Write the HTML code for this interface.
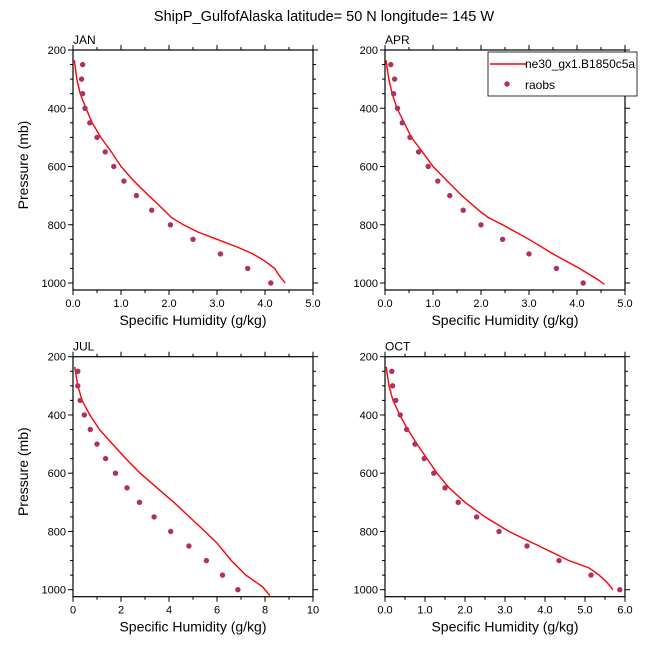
<!DOCTYPE html>
<html><head><meta charset="utf-8"><style>
html,body{margin:0;padding:0;background:#fff;}
svg{display:block;font-family:"Liberation Sans",sans-serif;}
</style></head><body>
<svg id="s" width="648" height="649" xmlns="http://www.w3.org/2000/svg">
<text x="324" y="21" font-size="14.5" text-anchor="middle">ShipP_GulfofAlaska  latitude= 50 N longitude= 145 W</text>
</svg>
<script>
const S=document.getElementById('s');let h='';
const panels=[
 {name:'JAN',x0:73,y0:50,xmax:5,lab:['0.0','1.0','2.0','3.0','4.0','5.0'],ylab:true,
  obs:[[250,.2],[300,.18],[350,.2],[400,.25],[450,.35],[500,.5],[550,.67],[600,.85],[650,1.06],[700,1.32],[750,1.64],[800,2.03],[850,2.5],[900,3.07],[950,3.64],[1000,4.12]],
  line:[[235,.03],[300,.08],[350,.15],[400,.27],[450,.4],[500,.58],[550,.8],[600,1.0],[650,1.27],[700,1.58],[750,1.9],[775,2.05],[800,2.3],[825,2.6],[850,3.0],[875,3.4],[900,3.75],[925,4.0],[950,4.2],[975,4.3],[1000,4.42]]},
 {name:'APR',x0:385,y0:50,xmax:5,lab:['0.0','1.0','2.0','3.0','4.0','5.0'],ylab:false,
  obs:[[250,.12],[300,.2],[350,.18],[400,.26],[450,.36],[500,.52],[550,.7],[600,.9],[650,1.1],[700,1.35],[750,1.63],[800,2.0],[850,2.45],[900,3.0],[950,3.57],[1000,4.13]],
  line:[[235,.02],[300,.08],[350,.15],[400,.25],[450,.4],[500,.55],[550,.78],[600,1.0],[650,1.3],[700,1.6],[750,1.95],[775,2.15],[800,2.45],[850,3.0],[900,3.5],[950,4.05],[990,4.45],[1005,4.57]]},
 {name:'JUL',x0:73,y0:356.7,xmax:10,lab:['0','2','4','6','8','10'],ylab:true,
  obs:[[250,.2],[300,.2],[350,.3],[400,.47],[450,.72],[500,1.0],[550,1.36],[600,1.77],[650,2.25],[700,2.77],[750,3.38],[800,4.07],[850,4.83],[900,5.56],[950,6.23],[1000,6.87]],
  line:[[235,.07],[300,.2],[350,.38],[400,.7],[450,1.1],[500,1.65],[550,2.2],[600,2.8],[650,3.5],[700,4.2],[750,4.85],[800,5.5],[840,6.0],[900,6.6],[950,7.2],[990,7.9],[1020,8.2]]},
 {name:'OCT',x0:385,y0:356.7,xmax:6,lab:['0.0','1.0','2.0','3.0','4.0','5.0','6.0'],ylab:false,
  obs:[[250,.17],[300,.19],[350,.27],[400,.38],[450,.54],[500,.75],[550,.98],[600,1.22],[650,1.5],[700,1.83],[750,2.29],[800,2.85],[850,3.55],[900,4.35],[950,5.15],[1000,5.87]],
  line:[[235,.03],[300,.1],[350,.2],[400,.37],[450,.57],[500,.8],[550,1.05],[600,1.3],[650,1.6],[700,2.0],[750,2.5],[800,3.1],[850,3.85],[900,4.6],[925,5.1],[950,5.35],[975,5.55],[1000,5.7]]}
];
const W=240,ps=233/800,H=240;
panels.forEach(p=>{
 const X=v=>p.x0+v/p.xmax*W, Y=q=>p.y0+(q-200)*ps;
 const x1=p.x0+W,y1=p.y0+H;
 for(let q=200;q<=1000;q+=50){const y=Y(q),L=q%200==0?5:3;
  h+=`<line x1="${p.x0-L}" y1="${y}" x2="${p.x0}" y2="${y}" stroke="#000"/><line x1="${x1}" y1="${y}" x2="${x1+L}" y2="${y}" stroke="#000"/>`;
  if(q%200==0)h+=`<text x="${p.x0-7}" y="${y+4}" font-size="11" text-anchor="end">${q}</text>`;}
 const n=p.lab.length-1;
 for(let i=0;i<=n;i++){const x=p.x0+i*W/n;
  h+=`<line x1="${x}" y1="${y1}" x2="${x}" y2="${y1+5}" stroke="#000"/><line x1="${x}" y1="${p.y0-5}" x2="${x}" y2="${p.y0}" stroke="#000"/>`;
  h+=`<text x="${x}" y="${y1+17}" font-size="11" text-anchor="middle">${p.lab[i]}</text>`;
  if(i<n){const xm=x+W/n/2;h+=`<line x1="${xm}" y1="${y1}" x2="${xm}" y2="${y1+3}" stroke="#000"/><line x1="${xm}" y1="${p.y0-3}" x2="${xm}" y2="${p.y0}" stroke="#000"/>`;}}
 h+=`<rect x="${p.x0}" y="${p.y0}" width="${W}" height="${H}" fill="none" stroke="#000" stroke-width="1.2"/>`;
 h+=`<text x="${p.x0}" y="${p.y0-6}" font-size="12">${p.name}</text>`;
 h+=`<text x="${p.x0+W/2}" y="${y1+35}" font-size="14" text-anchor="middle">Specific Humidity (g/kg)</text>`;
 if(p.ylab){const cy=p.y0+H/2-5;h+=`<text x="28" y="${cy}" font-size="14" text-anchor="middle" transform="rotate(-90 28 ${cy})">Pressure (mb)</text>`;}
 h+=`<polyline fill="none" stroke="#f00" stroke-width="1.4" points="${p.line.map(a=>X(a[1]).toFixed(1)+','+Y(a[0]).toFixed(1)).join(' ')}"/>`;
 p.obs.forEach(a=>{h+=`<circle cx="${X(a[1]).toFixed(1)}" cy="${Y(a[0]).toFixed(1)}" r="2.7" fill="#b03060"/>`;});
});
h+=`<rect x="488" y="52" width="149" height="44" fill="#fff" stroke="#000" stroke-width="0.8"/>`;
h+=`<line x1="490" y1="64" x2="526" y2="64" stroke="#f00" stroke-width="1.4"/><text x="525" y="68" font-size="12">ne30_gx1.B1850c5a</text>`;
h+=`<circle cx="507" cy="84" r="2.7" fill="#b03060"/><text x="525" y="89" font-size="12">raobs</text>`;
S.insertAdjacentHTML('beforeend',h);
</script>
</body></html>
